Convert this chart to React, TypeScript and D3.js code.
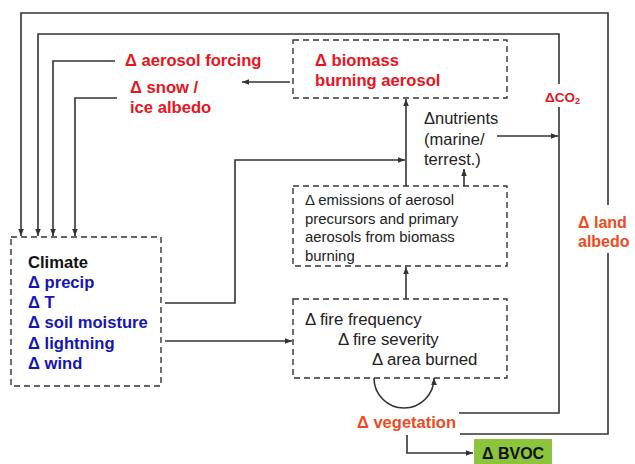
import * as d3 from 'd3';

// text content of the diagram
const climateTitle = 'Climate';
const climateVars = ['Δ precip', 'Δ T', 'Δ soil moisture', 'Δ lightning', 'Δ wind'];
const forcingLabels = ['Δ aerosol forcing'];
const snowLabels = ['Δ snow /', 'ice albedo'];
const biomassLabels = ['Δ biomass', 'burning aerosol'];
const nutrientLabels = ['Δnutrients', '(marine/', 'terrest.)'];
const emissionLabels = ['Δ emissions of aerosol', 'precursors and primary', 'aerosols from biomass', 'burning'];
const fireLabels = ['Δ fire frequency', 'Δ fire severity', 'Δ area burned'];
const landLabels = ['Δ land', 'albedo'];
const vegetationLabel = 'Δ vegetation';
const bvocLabel = 'Δ BVOC';

type Pt = [number, number];

// layout (pixel positions of boxes and connectors)
const boxes = [
  { x0: 293, y0: 40, x1: 507, y1: 98 },   // biomass aerosol
  { x0: 293, y0: 186, x1: 507, y1: 266 }, // emissions
  { x0: 293, y0: 299, x1: 507, y1: 378 }, // fire
  { x0: 11, y0: 237, x1: 161, y1: 386 },  // climate
];

const plainLines: Pt[][] = [
  [[460, 434], [608, 434], [608, 253]],
  [[459, 413], [559, 413], [559, 107]],
];

const arrowLines: Pt[][] = [
  [[608, 205], [608, 13], [21, 13], [21, 236]],
  [[559, 84], [559, 34], [38, 34], [38, 236]],
  [[115, 61], [53, 61], [53, 236]],
  [[117, 98], [75, 98], [75, 236]],
  [[290, 82], [242, 82]],
  [[165, 303], [235, 303], [235, 160], [405, 160]],
  [[406, 186], [406, 99]],
  [[464, 186], [464, 169]],
  [[497, 136], [558, 136]],
  [[165, 341], [292, 341]],
  [[406, 299], [406, 267]],
  [[407, 435], [407, 453], [473, 453]],
];

const LINE = '#333333';
const RED = '#E8141E';
const ORANGE = '#EE4A22';
const BLUE = '#1515B5';
const GREEN = '#8CC43C';
const FONT = '"Liberation Sans", Arial, sans-serif';

export default function App() {
  const line = d3.line<Pt>();
  const loop = d3.path();
  loop.arc(404, 378, 30, Math.PI, 0, true);

  const block = (lines: string[], x: number, y: number, dy: number, props: any) =>
    lines.map((t, i) => (
      <text key={t} x={x} y={y + i * dy} dominantBaseline="central" {...props}>{t}</text>
    ));

  const bold = { fontWeight: 'bold', fontSize: 16.6 };
  const plain = { fontSize: 16.8, fill: '#222' };

  return (
    <svg width={635} height={464} style={{ position: 'absolute', left: 0, top: 0, background: '#fff' }}
      fontFamily={FONT}>
      <defs>
        <marker id="arr" viewBox="0 0 8 8" refX={8} refY={4} markerWidth={7} markerHeight={7}
          markerUnits="userSpaceOnUse" orient="auto">
          <path d="M0,0.8 L8,4 L0,7.2 Z" fill={LINE} />
        </marker>
      </defs>

      {boxes.map((b, i) => (
        <rect key={i} x={b.x0} y={b.y0} width={b.x1 - b.x0} height={b.y1 - b.y0}
          fill="none" stroke={LINE} strokeWidth={1.4} strokeDasharray="6,4" />
      ))}

      {plainLines.map((p, i) => (
        <path key={'p' + i} d={line(p) || ''} fill="none" stroke={LINE} strokeWidth={1.6} />
      ))}
      {arrowLines.map((p, i) => (
        <path key={'a' + i} d={line(p) || ''} fill="none" stroke={LINE} strokeWidth={1.6} markerEnd="url(#arr)" />
      ))}
      <path d={loop.toString()} fill="none" stroke={LINE} strokeWidth={1.6} markerEnd="url(#arr)" />

      <rect x={474} y={439} width={78} height={30} fill={GREEN} />

      {block(forcingLabels, 125, 60, 20, { ...bold, fill: RED })}
      {block(snowLabels, 130, 87, 20, { ...bold, fill: RED })}
      {block(biomassLabels, 315, 60, 20, { ...bold, fill: RED })}
      {block(nutrientLabels, 424, 118, 20.5, { fontSize: 16.5, fill: '#222' })}
      {block(emissionLabels, 305, 200, 18.5, { fontSize: 14.9, fill: '#222' })}
      <text x={305} y={319} dominantBaseline="central" {...plain}>{fireLabels[0]}</text>
      <text x={338} y={339} dominantBaseline="central" {...plain}>{fireLabels[1]}</text>
      <text x={372} y={359} dominantBaseline="central" {...plain}>{fireLabels[2]}</text>
      <text x={545} y={97} dominantBaseline="central" fontSize={13.5} fontWeight="bold" fill={RED}>
        ΔCO<tspan fontSize={9} dy={4}>2</tspan>
      </text>
      {block(landLabels, 578, 222, 19.5, { ...bold, fontSize: 16, fill: ORANGE })}
      <text x={357} y={422} dominantBaseline="central" fontSize={16.5} fontWeight="bold" fill={ORANGE}>{vegetationLabel}</text>
      <text x={482} y={453} dominantBaseline="central" fontSize={16} fontWeight="bold" fill="#111">{bvocLabel}</text>

      <text x={28} y={262} dominantBaseline="central" {...bold} fill="#111">{climateTitle}</text>
      {block(climateVars, 28, 282, 20.4, { ...bold, fill: BLUE })}
    </svg>
  );
}
